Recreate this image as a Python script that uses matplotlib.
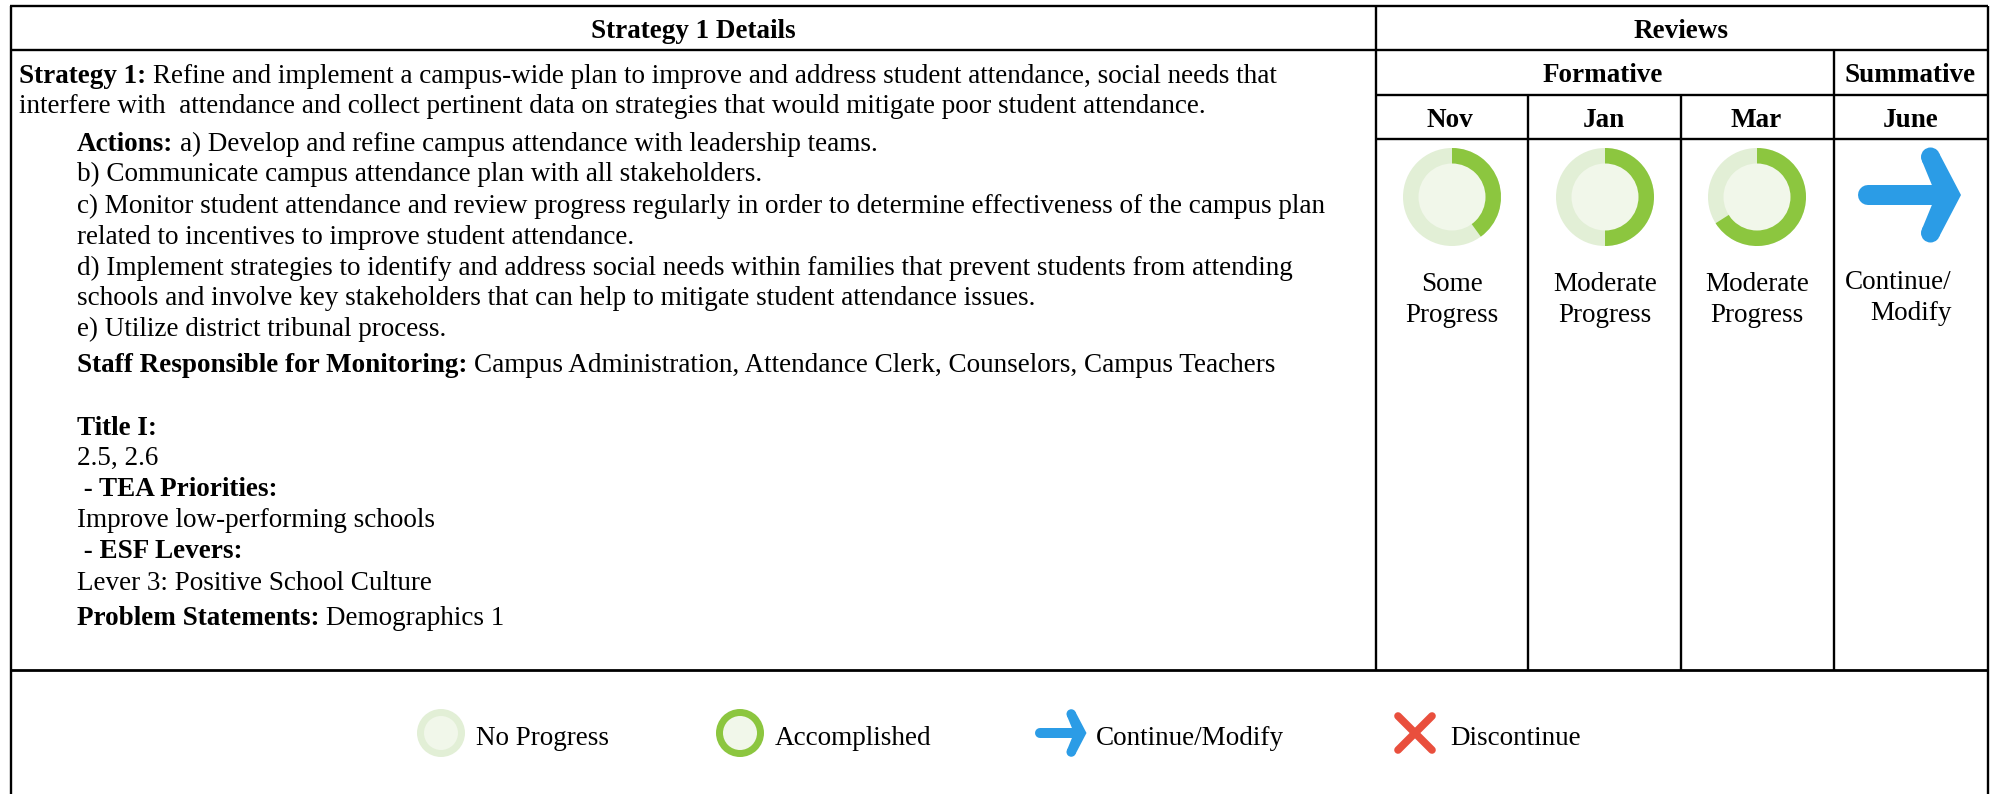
import matplotlib.pyplot as plt
from matplotlib.patches import Wedge, Circle

plt.rcParams['font.family'] = ['Liberation Serif', 'DejaVu Sans']

# table text
header_left = 'Strategy 1 Details'
header_right = 'Reviews'
header_formative = 'Formative'
header_summative = 'Summative'
months = ['Nov', 'Jan', 'Mar', 'June']
review_labels = [['Some', 'Progress'], ['Moderate', 'Progress'], ['Moderate', 'Progress']]
review_pct = [40, 50, 66]

body_bold = ['Strategy 1:', '', 'Actions:', '', '', '', '', '', '',
             'Staff Responsible for Monitoring:', 'Title I:', '', ' - TEA Priorities:', '',
             ' - ESF Levers:', '', 'Problem Statements:']
body_plain = ['Refine and implement a campus-wide plan to improve and address student attendance, social needs that',
              'interfere with  attendance and collect pertinent data on strategies that would mitigate poor student attendance.',
              'a) Develop and refine campus attendance with leadership teams.',
              'b) Communicate campus attendance plan with all stakeholders.',
              'c) Monitor student attendance and review progress regularly in order to determine effectiveness of the campus plan',
              'related to incentives to improve student attendance.',
              'd) Implement strategies to identify and address social needs within families that prevent students from attending',
              'schools and involve key stakeholders that can help to mitigate student attendance issues.',
              'e) Utilize district tribunal process.',
              'Campus Administration, Attendance Clerk, Counselors, Campus Teachers',
              '', '2.5, 2.6', '', 'Improve low-performing schools', '',
              'Lever 3: Positive School Culture', 'Demographics 1']
body_x = [19, 19, 77, 77, 77, 77, 77, 77, 77, 77, 77, 77, 77, 77, 77, 77, 77]
body_y = [83, 113, 151, 181, 213, 244, 275, 305, 336, 372, 435, 465, 496, 527, 558, 590, 625]

legend_labels = ['No Progress', 'Accomplished', 'Continue/Modify', 'Discontinue']

FS = 19.5
GREEN = '#8cc63f'
LIGHT = '#e2efd6'
PALE = '#f1f7ea'
BLUE = '#2b9ce6'
RED = '#e94f3d'

fig = plt.figure(figsize=(19.97, 7.94), dpi=100)
ax = fig.add_axes([0, 0, 1, 1])
ax.set_xlim(0, 1997)
ax.set_ylim(794, 0)
ax.axis('off')


def hline(x0, x1, y, lw=1.7):
    ax.plot([x0, x1], [y, y], color='black', lw=lw, solid_capstyle='butt')


def vline(x, y0, y1, lw=1.7):
    ax.plot([x, x], [y0, y1], color='black', lw=lw, solid_capstyle='butt')


def mixed_text(x, y, bold, plain):
    # bold prefix, then the plain part starts where the bold one ends
    if bold:
        t = ax.text(x, y, bold, fontsize=FS, fontweight='bold', va='baseline')
        box = t.get_window_extent(fig.canvas.get_renderer())
        x = box.x1 + 7
    if plain:
        ax.text(x, y, plain, fontsize=FS, va='baseline')


def bold_center(x, y, s):
    ax.text(x, y, s, fontsize=FS, fontweight='bold', ha='center', va='baseline')


def donut(cx, cy, pct):
    ax.add_patch(Circle((cx, cy), 49, fc=LIGHT, ec='none'))
    # y axis is flipped, so angles run clockwise from -90 at the top
    ax.add_patch(Wedge((cx, cy), 49, -90, -90 + 3.6 * pct, fc=GREEN, ec='none'))
    ax.add_patch(Circle((cx, cy), 33.5, fc=PALE, ec='none'))


def ring(cx, cy, color):
    ax.add_patch(Circle((cx, cy), 24, fc=color, ec='none'))
    ax.add_patch(Circle((cx, cy), 17, fc=PALE, ec='none'))


def arrow(cx, cy, s):
    # chevron head plus shaft, sized around the big icon
    xs = [10, 27, 49, 27, 10, 24]
    ys = [-34, -42, 0, 42, 34, 0]
    ax.fill([cx + a * s for a in xs], [cy + b * s for b in ys], color=BLUE, lw=0)
    for sign in [-1, 1]:
        ax.add_patch(Circle((cx + 18.5 * s, cy + sign * 38 * s), 9.5 * s, fc=BLUE, ec='none'))
    ax.plot([cx - 44 * s, cx + 30 * s], [cy, cy], color=BLUE, lw=14.4 * s, solid_capstyle='round')


# grid lines
hline(10, 1988, 6)
hline(10, 1988, 50)
hline(1376, 1988, 95)
hline(1376, 1988, 139)
hline(10, 1988, 670, 2.0)
vline(11, 6, 794)
vline(1376, 6, 670)
vline(1988, 6, 794)
for x in [1528, 1681]:
    vline(x, 95, 670)
vline(1834, 50, 670)

# headers
bold_center(693, 38, header_left)
bold_center(1681, 38, header_right)
bold_center(1603, 82, header_formative)
bold_center(1910, 82, header_summative)
for x, m in zip([1450, 1604, 1756, 1911], months):
    bold_center(x, 127, m)

# left column
for x, y, b, p in zip(body_x, body_y, body_bold, body_plain):
    mixed_text(x, y, b, p)

# review marks
for x, pct, lab in zip([1452, 1605, 1757], review_pct, review_labels):
    donut(x, 197, pct)
    ax.text(x, 291, lab[0], fontsize=FS, ha='center', va='baseline')
    ax.text(x, 322, lab[1], fontsize=FS, ha='center', va='baseline')
arrow(1912, 195, 1)
ax.text(1845, 289, 'Continue/', fontsize=FS, va='baseline')
ax.text(1870, 320, 'Modify', fontsize=FS, va='baseline')

# legend row
ring(441, 733, LIGHT)
ring(740, 733, GREEN)
arrow(1062, 733, 0.5)
ax.plot([1398, 1432], [716, 750], color=RED, lw=5.5, solid_capstyle='round')
ax.plot([1432, 1398], [716, 750], color=RED, lw=5.5, solid_capstyle='round')
for x, lab in zip([476, 775, 1096, 1450], legend_labels):
    ax.text(x, 745, lab, fontsize=FS, va='baseline')

fig.savefig('out.png', dpi=100)
